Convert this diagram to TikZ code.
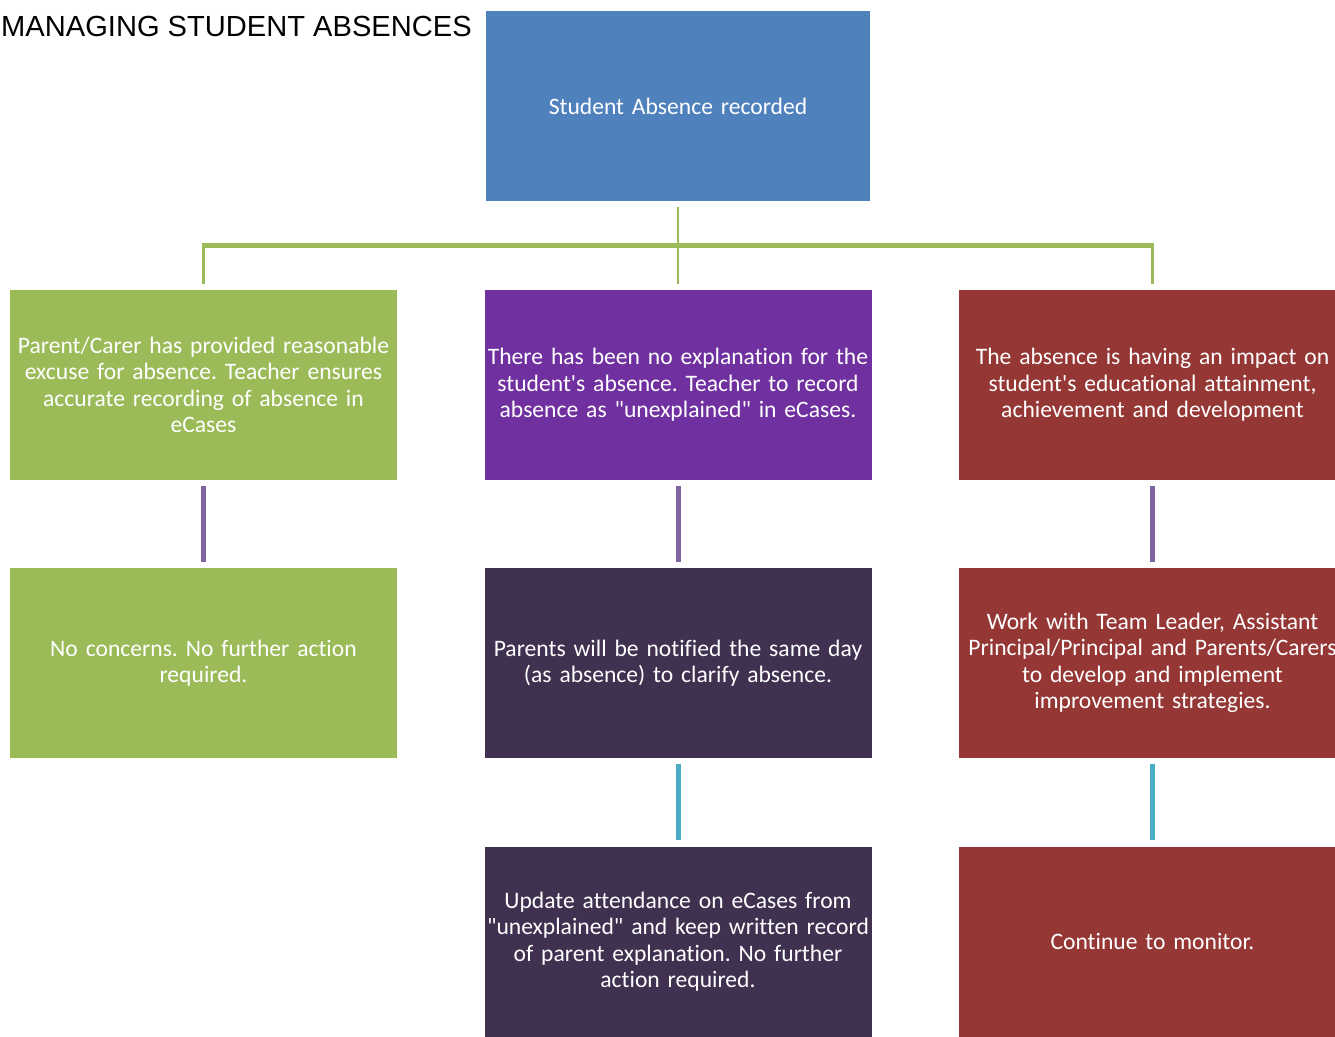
\documentclass[tikz,border=0pt]{standalone}
\usepackage{fontspec}
\setmainfont{Carlito}[Ligatures={TeXOff,CommonOff}]
\newfontfamily\titlefont{Liberation Sans}
\usetikzlibrary{positioning,calc}
\definecolor{headBlue}{HTML}{4F81BD}
\definecolor{okGreen}{HTML}{9BBB59}
\definecolor{noPurple}{HTML}{7030A0}
\definecolor{riskRed}{HTML}{953735}
\definecolor{deepPlum}{HTML}{403151}
\definecolor{linkPurple}{HTML}{8064A2}
\definecolor{linkCyan}{HTML}{4BACC6}
\frenchspacing

\begin{document}
\begin{tikzpicture}[x=1pt,y=-1pt,
    box/.style={minimum width=387pt, minimum height=190pt, text width=384pt,
                align=center, inner sep=0pt, text=white,
                font=\fontsize{23.6}{26.4}\selectfont},
    trunk/.style={draw=okGreen, line width=2.6pt},
    branch/.style={draw=okGreen, line width=5pt},
    link/.style={line width=5pt, shorten <=6pt, shorten >=6pt}]
  \useasboundingbox (0,0) rectangle (1335,1036);

  \node[anchor=base west, inner xsep=0pt, font=\titlefont\fontsize{29.1}{31}\selectfont] (title) at (1,36) {MANAGING STUDENT ABSENCES};

  % top and first row
  \node[box, fill=headBlue, minimum width=380pt] (start) at (678,106) {Student Absence recorded};
  \node[box, fill=okGreen] (excused) at (203.5,385) {Parent/Carer has provided reasonable\\ excuse for absence. Teacher ensures\\ accurate recording of absence in\\ eCases};
  \node[box, fill=noPurple] (unexpl) at (678,385) {There has been no explanation for the\\ student's absence. Teacher to record\\ absence as "unexplained" in eCases.};
  \node[box, fill=riskRed] (impact) at (1152.5,385) {The absence is having an impact on\\ student's educational attainment,\\ achievement and development};

  % second row
  \node[box, fill=okGreen] (noconcern) at (203.5,663) {No concerns. No further action\\ required.};
  \node[box, fill=deepPlum] (notify) at (678,663) {Parents will be notified the same day\\ (as absence) to clarify absence.};
  \node[box, fill=riskRed] (teamwork) at (1152.5,663) {Work with Team Leader, Assistant\\ Principal/Principal and Parents/Carers\\ to develop and implement\\ improvement strategies.};

  % third row
  \node[box, fill=deepPlum] (update) at (678,941.5) {Update attendance on eCases from\\ "unexplained" and keep written record\\ of parent explanation. No further\\ action required.};
  \node[box, fill=riskRed] (monitor) at (1152.5,941.5) {Continue to monitor.};

  % green tree
  \coordinate (hub) at (678,245);
  \draw[trunk] ([yshift=-6pt]start.south) -- (hub);
  \draw[branch] ($(excused.north |- hub)+(-1.3,0)$) -- ($(impact.north |- hub)+(1.3,0)$);
  \foreach \b in {excused,unexpl,impact}
    \draw[trunk] (\b.north |- hub) -- ([yshift=6pt]\b.north);

  % links between rows
  \draw[link, linkPurple] (excused) -- (noconcern);
  \draw[link, linkPurple] (unexpl) -- (notify);
  \draw[link, linkPurple] (impact) -- (teamwork);
  \draw[link, linkCyan] (notify) -- (update);
  \draw[link, linkCyan] (teamwork) -- (monitor);
\end{tikzpicture}
\end{document}
